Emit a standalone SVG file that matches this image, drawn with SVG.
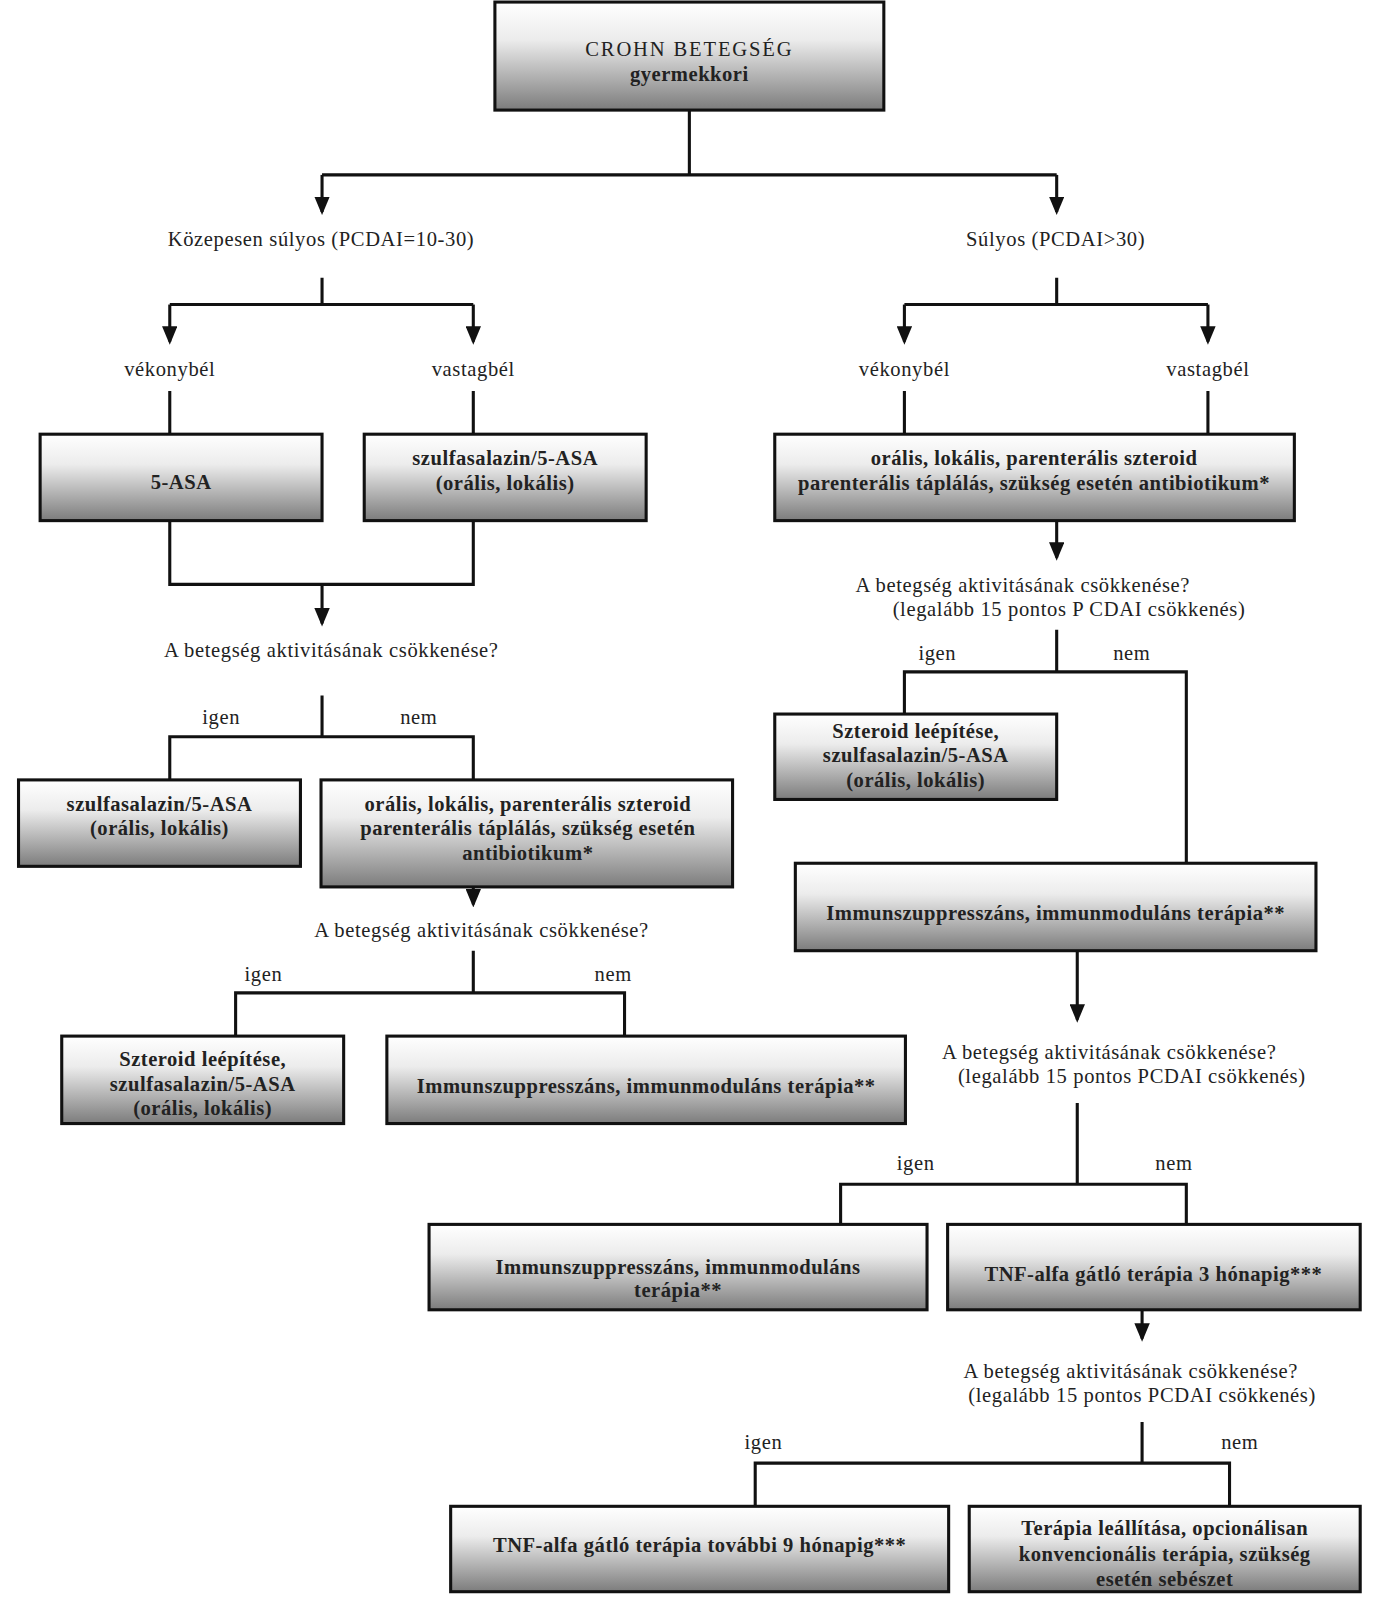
<svg xmlns="http://www.w3.org/2000/svg" width="1387" height="1613" viewBox="0 0 1387 1613">
<style>
.box{fill:url(#g);stroke:#111;stroke-width:3}
.bt{font-family:"Liberation Serif","Times New Roman",serif;font-weight:bold;font-size:20px;letter-spacing:0.5px;fill:#222;text-anchor:middle}
.lb{font-family:"Liberation Serif","Times New Roman",serif;font-size:20px;letter-spacing:0.6px;fill:#222;text-anchor:middle}
.ln{fill:none;stroke:#111;stroke-width:3}
</style>
<defs>
<linearGradient id="g" x1="0" y1="0" x2="0" y2="1">
<stop offset="0" stop-color="#ffffff"/>
<stop offset="0.35" stop-color="#ececec"/>
<stop offset="1" stop-color="#7c7c7c"/>
</linearGradient>
<marker id="a" markerWidth="6" markerHeight="5" refX="5" refY="2.5" orient="auto" markerUnits="strokeWidth">
<path d="M0,0 L6,2.5 L0,5 z" fill="#111"/>
</marker>
</defs>
<rect width="1387" height="1613" fill="#fff"/>
<g transform="scale(1.0289)">
<g id="connectors">
<path class="ln" d="M670,107 V170 M313,170 H1027"/>
<path class="ln" d="M313,170 V206" marker-end="url(#a)"/>
<path class="ln" d="M1027,170 V206" marker-end="url(#a)"/>
<path class="ln" d="M313,270 V296 M165,296 H460"/>
<path class="ln" d="M165,296 V332" marker-end="url(#a)"/>
<path class="ln" d="M460,296 V332" marker-end="url(#a)"/>
<path class="ln" d="M165,380 V422 M460,380 V422"/>
<path class="ln" d="M165,506 V568 H460 V506"/>
<path class="ln" d="M313,568 V606" marker-end="url(#a)"/>
<path class="ln" d="M313,676 V716 M165,758 V716 H460 V758"/>
<path class="ln" d="M460,862 V879" marker-end="url(#a)"/>
<path class="ln" d="M460,924 V965 M229,1007 V965 H607 V1007"/>
<path class="ln" d="M1027,270 V296 M879,296 H1174"/>
<path class="ln" d="M879,296 V332" marker-end="url(#a)"/>
<path class="ln" d="M1174,296 V332" marker-end="url(#a)"/>
<path class="ln" d="M879,380 V422 M1174,380 V422"/>
<path class="ln" d="M1027,506 V542" marker-end="url(#a)"/>
<path class="ln" d="M1027,612 V653 M879,694 V653 H1153 V839"/>
<path class="ln" d="M1047,924 V991" marker-end="url(#a)"/>
<path class="ln" d="M1047,1072 V1151 M817,1190 V1151 H1153 V1190"/>
<path class="ln" d="M1110,1273 V1301" marker-end="url(#a)"/>
<path class="ln" d="M1110,1382 V1422 M734,1464 V1422 H1195 V1464"/>
</g>
<g id="n-root"><rect class="box" x="481" y="2" width="378" height="105"/>
<text class="bt" x="670" y="54" style="font-weight:normal;letter-spacing:1.8px">CROHN BETEGSÉG</text>
<text class="bt" x="670" y="79">gyermekkori</text></g>
<g id="l-kozep"><text class="lb" x="312" y="239">Közepesen súlyos (PCDAI=10-30)</text></g>
<g id="l-sulyos"><text class="lb" x="1026" y="239">Súlyos (PCDAI&gt;30)</text></g>
<g id="l-vek1"><text class="lb" x="165" y="365">vékonybél</text></g>
<g id="l-vas1"><text class="lb" x="460" y="365">vastagbél</text></g>
<g id="l-vek2"><text class="lb" x="879" y="365">vékonybél</text></g>
<g id="l-vas2"><text class="lb" x="1174" y="365">vastagbél</text></g>
<g id="n-5asa"><rect class="box" x="39" y="422" width="274" height="84"/>
<text class="bt" x="176" y="475">5-ASA</text></g>
<g id="n-szulf1"><rect class="box" x="354" y="422" width="274" height="84"/>
<text class="bt" x="491" y="452">szulfasalazin/5-ASA</text>
<text class="bt" x="491" y="476">(orális, lokális)</text></g>
<g id="n-szter1"><rect class="box" x="753" y="422" width="505" height="84"/>
<text class="bt" x="1005" y="452">orális, lokális, parenterális szteroid</text>
<text class="bt" x="1005" y="476">parenterális táplálás, szükség esetén antibiotikum*</text></g>
<g id="l-q1"><text class="lb" x="322" y="639">A betegség aktivitásának csökkenése?</text>
<text class="lb" x="215" y="704">igen</text><text class="lb" x="407" y="704">nem</text></g>
<g id="n-szulf2"><rect class="box" x="18" y="758" width="274" height="84"/>
<text class="bt" x="155" y="788">szulfasalazin/5-ASA</text>
<text class="bt" x="155" y="812">(orális, lokális)</text></g>
<g id="n-szter2"><rect class="box" x="312" y="758" width="400" height="104"/>
<text class="bt" x="513" y="788">orális, lokális, parenterális szteroid</text>
<text class="bt" x="513" y="812">parenterális táplálás, szükség esetén</text>
<text class="bt" x="513" y="836">antibiotikum*</text></g>
<g id="l-q2"><text class="lb" x="468" y="911">A betegség aktivitásának csökkenése?</text>
<text class="lb" x="256" y="953">igen</text><text class="lb" x="596" y="953">nem</text></g>
<g id="n-lepit1"><rect class="box" x="60" y="1007" width="274" height="85"/>
<text class="bt" x="197" y="1036">Szteroid leépítése,</text>
<text class="bt" x="197" y="1060">szulfasalazin/5-ASA</text>
<text class="bt" x="197" y="1084">(orális, lokális)</text></g>
<g id="n-imm1"><rect class="box" x="376" y="1007" width="504" height="85"/>
<text class="bt" x="628" y="1062">Immunszuppresszáns, immunmoduláns terápia**</text></g>
<g id="l-q3"><text class="lb" x="994" y="575">A betegség aktivitásának csökkenése?</text>
<text class="lb" x="1039" y="599">(legalább 15 pontos P CDAI csökkenés)</text>
<text class="lb" x="911" y="641">igen</text><text class="lb" x="1100" y="641">nem</text></g>
<g id="n-lepit2"><rect class="box" x="753" y="694" width="274" height="83"/>
<text class="bt" x="890" y="717">Szteroid leépítése,</text>
<text class="bt" x="890" y="741">szulfasalazin/5-ASA</text>
<text class="bt" x="890" y="765">(orális, lokális)</text></g>
<g id="n-imm2"><rect class="box" x="773" y="839" width="506" height="85"/>
<text class="bt" x="1026" y="894">Immunszuppresszáns, immunmoduláns terápia**</text></g>
<g id="l-q4"><text class="lb" x="1078" y="1029">A betegség aktivitásának csökkenése?</text>
<text class="lb" x="1100" y="1053">(legalább 15 pontos PCDAI csökkenés)</text>
<text class="lb" x="890" y="1137">igen</text><text class="lb" x="1141" y="1137">nem</text></g>
<g id="n-imm3"><rect class="box" x="417" y="1190" width="484" height="83"/>
<text class="bt" x="659" y="1238">Immunszuppresszáns, immunmoduláns</text>
<text class="bt" x="659" y="1261">terápia**</text></g>
<g id="n-tnf3"><rect class="box" x="921" y="1190" width="401" height="83"/>
<text class="bt" x="1121" y="1245">TNF-alfa gátló terápia 3 hónapig***</text></g>
<g id="l-q5"><text class="lb" x="1099" y="1339">A betegség aktivitásának csökkenése?</text>
<text class="lb" x="1110" y="1363">(legalább 15 pontos PCDAI csökkenés)</text>
<text class="lb" x="742" y="1408">igen</text><text class="lb" x="1205" y="1408">nem</text></g>
<g id="n-tnf9"><rect class="box" x="438" y="1464" width="484" height="83"/>
<text class="bt" x="680" y="1508">TNF-alfa gátló terápia további 9 hónapig***</text></g>
<g id="n-stop"><rect class="box" x="942" y="1464" width="380" height="83"/>
<text class="bt" x="1132" y="1492">Terápia leállítása, opcionálisan</text>
<text class="bt" x="1132" y="1517">konvencionális terápia, szükség</text>
<text class="bt" x="1132" y="1541">esetén sebészet</text></g>
</g>
</svg>
